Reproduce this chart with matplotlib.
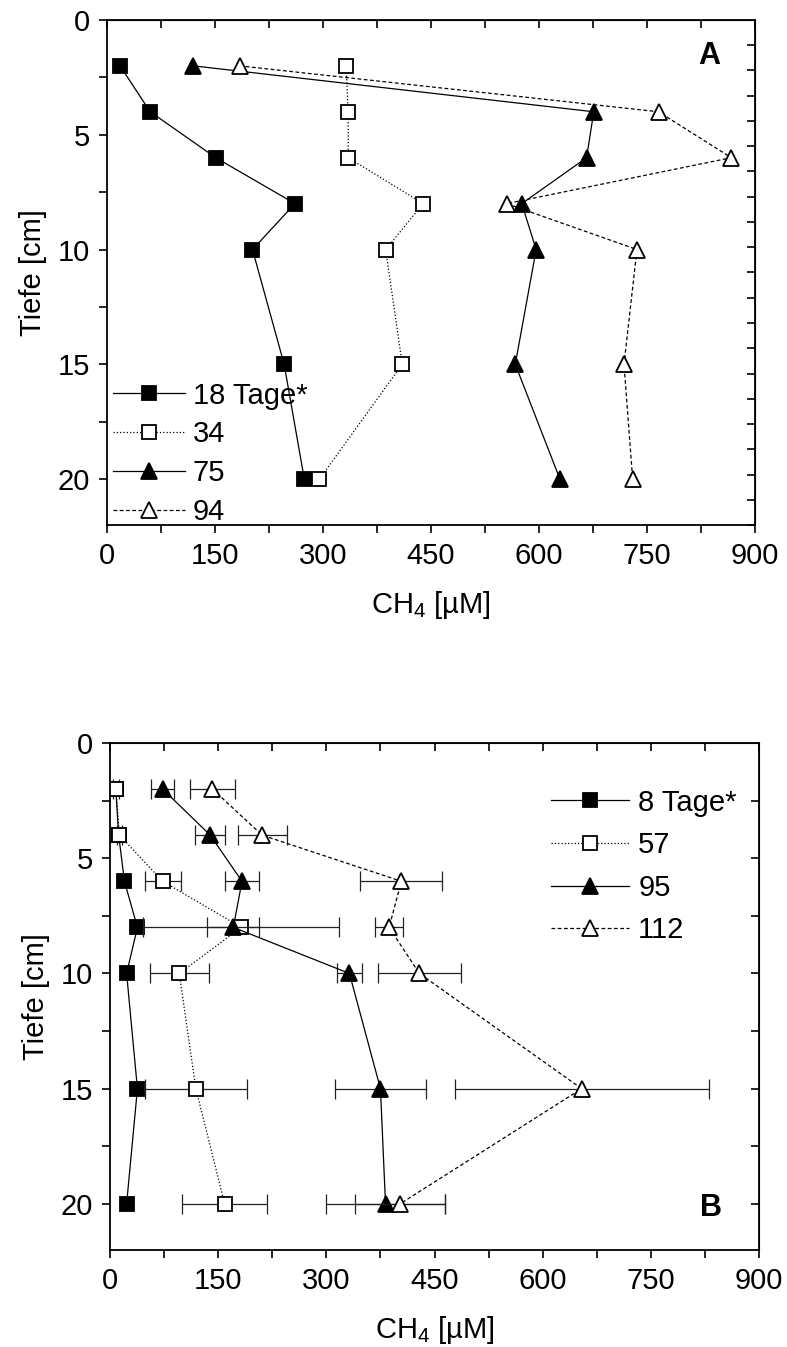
import numpy as np
import matplotlib
matplotlib.use("Agg")
import matplotlib.pyplot as plt

plt.rcParams['font.family'] = ['Liberation Sans', 'DejaVu Sans']
plt.rcParams['mathtext.fontset'] = 'custom'
plt.rcParams['mathtext.rm'] = 'Liberation Sans'

# depth of the samples (cm)
depth = [2, 4, 6, 8, 10, 15, 20]

# panel A: CH4 (uM)
a_labels = ['18 Tage*', '34', '75', '94']
a_18 = [18, 60, 151, 261, 202, 246, 274]
a_34 = [332, 335, 335, 439, 387, 410, 295]
a_75 = [120, 676, 666, 576, 596, 567, 629]
a_94 = [184, 766, 867, 555, 736, 718, 730]

# panel B: CH4 (uM) with errors
b_labels = ['8 Tage*', '57', '95', '112']
b_8 = [8, 12, 20, 38, 23, 38, 23]
b_8_err = [0, 0, 0, 0, 0, 0, 0]
b_57 = [8, 13, 73, 182, 96, 119, 159]
b_57_err = [4, 4, 25, 136, 41, 71, 59]
b_95 = [73, 139, 183, 171, 332, 375, 382]
b_95_err = [16, 21, 24, 36, 17, 63, 83]
b_112 = [142, 211, 404, 387, 429, 654, 402]
b_112_err = [31, 34, 57, 19, 58, 176, 62]

styles = [
    dict(ls='-', marker='s', mfc='k', ms=10),
    dict(ls=':', marker='s', mfc='w', ms=10),
    dict(ls='-', marker='^', mfc='k', ms=12),
    dict(ls=(0, (3, 2)), marker='^', mfc='w', ms=12),
]

FS = 21


def style_axes(ax, right_ticks):
    ax.set_xlim(0, 900)
    ax.set_ylim(22, 0)
    ax.set_xticks(np.arange(0, 901, 150))
    ax.set_xticks(np.arange(75, 900, 150), minor=True)
    ax.set_yticks([0, 5, 10, 15, 20])
    ax.set_yticks([2.5, 7.5, 12.5, 17.5], minor=True)
    ax.tick_params(which='both', direction='out', length=6, width=1.2,
                   labelsize=FS, top=False, right=False, pad=6)
    for s in ax.spines.values():
        s.set_linewidth(1.3)
    ax.set_xlabel(r'CH$_\mathregular{4}$ [µM]', fontsize=FS, labelpad=14)
    ax.set_ylabel('Tiefe [cm]', fontsize=FS, labelpad=8)
    sx = ax.secondary_xaxis('top')
    sx.set_xticks(np.arange(0, 901, 75))
    sx.tick_params(direction='in', length=6, width=1.2, labeltop=False)
    sy = ax.secondary_yaxis('right')
    sy.set_yticks(right_ticks)
    sy.tick_params(direction='in', length=6, width=1.2, labelright=False)


fig = plt.figure(figsize=(7.87, 13.47), dpi=100)

# ---- panel A
ax1 = fig.add_axes([0.136, 0.6102, 0.8234, 0.375])
for vals, lab, st in zip([a_18, a_34, a_75, a_94], a_labels, styles):
    ax1.plot(vals, depth, color='k', lw=0.9, mec='k', mew=1.3, label=lab, **st)
style_axes(ax1, np.arange(1, 21) * 1.1)
ax1.text(0.946, 0.913, 'A', transform=ax1.transAxes, fontsize=22,
         fontweight='bold', ha='right', va='baseline')
ax1.legend(loc='upper left', bbox_to_anchor=(0.009, 0.284), frameon=False,
           fontsize=FS, numpoints=1, handlelength=2.47, handletextpad=0.27,
           labelspacing=0.37, borderaxespad=0, borderpad=0)

# ---- panel B
ax2 = fig.add_axes([0.1398, 0.072, 0.8247, 0.3764])
for vals, err, lab, st in zip([b_8, b_57, b_95, b_112],
                              [b_8_err, b_57_err, b_95_err, b_112_err],
                              b_labels, styles):
    if max(err) > 0:
        ax2.errorbar(vals, depth, xerr=err, fmt='none', ecolor='#222222',
                     elinewidth=0.9, capsize=7, capthick=0.9)
    ax2.plot(vals, depth, color='k', lw=0.9, mec='k', mew=1.3, label=lab, **st)
style_axes(ax2, np.arange(2.5, 22, 2.5))
ax2.text(0.943, 0.067, 'B', transform=ax2.transAxes, fontsize=22,
         fontweight='bold', ha='right', va='baseline')
ax2.legend(loc='upper left', bbox_to_anchor=(0.679, 0.910), frameon=False,
           fontsize=FS, numpoints=1, handlelength=2.7, handletextpad=0.3,
           labelspacing=0.5, borderaxespad=0, borderpad=0)

fig.savefig('out.png', dpi=100)
